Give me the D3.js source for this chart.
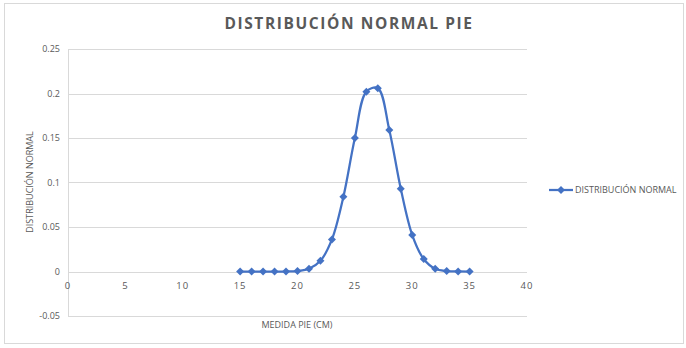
<!DOCTYPE html>
<html><head><meta charset="utf-8">
<script src="https://cdn.jsdelivr.net/npm/d3@7"></script>
<style>body{margin:0;background:#fff;}svg{display:block;font-family:"Open Sans",Lato,sans-serif;}</style>
</head><body>
<svg id="c" width="686" height="348"></svg>
<script>
const xValues = [15,16,17,18,19,20,21,22,23,24,25,26,27,28,29,30,31,32,33,34,35];
const yValues = [0,0,0,0,0,0.0005,0.003,0.012,0.036,0.084,0.150,0.202,0.206,0.159,0.093,0.041,0.014,0.003,0.0005,0.0001,0];
const xTicks = [0,5,10,15,20,25,30,35,40];
const yTicks = [-0.05,0,0.05,0.1,0.15,0.2,0.25];
const title = "DISTRIBUCIÓN NORMAL PIE";
const seriesName = "DISTRIBUCIÓN NORMAL";
const xTitle = "MEDIDA PIE (CM)";
const yTitle = "DISTRIBUCIÓN NORMAL";

const svg = d3.select("#c");
const blue = "#4472C4", grid = "#d9d9d9", txt = "#595959";

svg.append("rect").attr("x",4.5).attr("y",3.5).attr("width",679).attr("height",340)
  .attr("fill","#fff").attr("stroke","#d9d9d9");

const x = d3.scaleLinear().domain([0,40]).range([68,527]);
const y = d3.scaleLinear().domain([-0.05,0.25]).range([316,49]);

// gridlines
svg.append("g").selectAll("line").data(yTicks).join("line")
  .attr("x1",x(0)).attr("x2",x(40))
  .attr("y1",d=>Math.round(y(d))+0.5).attr("y2",d=>Math.round(y(d))+0.5)
  .attr("stroke",grid).attr("stroke-width",1);
// vertical axis line
svg.append("line").attr("x1",68.5).attr("x2",68.5).attr("y1",y(0.25)).attr("y2",y(-0.05))
  .attr("stroke",grid);

// y tick labels
svg.append("g").selectAll("text").data(yTicks).join("text")
  .attr("x",60).attr("y",d=>y(d)+3).attr("text-anchor","end")
  .attr("font-size",9).attr("fill",txt).text(d=>d);
// x tick labels
svg.append("g").selectAll("text").data(xTicks).join("text")
  .attr("x",d=>x(d)).attr("y",y(0)+17).attr("text-anchor","middle")
  .attr("font-size",9.5).attr("letter-spacing","1px").attr("fill",txt).text(d=>d);

// title
svg.append("text").attr("x",349).attr("y",29).attr("text-anchor","middle")
  .attr("font-size",15.5).attr("font-weight","bold").attr("letter-spacing","1.6px")
  .attr("fill",txt).text(title);

// axis titles
svg.append("text").attr("x",297).attr("y",328).attr("text-anchor","middle")
  .attr("font-size",9).attr("fill",txt).text(xTitle);
svg.append("text").attr("transform","translate(33,182) rotate(-90)").attr("text-anchor","middle")
  .attr("font-size",9).attr("fill",txt).text(yTitle);

// series
const data = xValues.map((v,i)=>({x:v,y:yValues[i]}));
const line = d3.line().x(d=>x(d.x)).y(d=>y(d.y)).curve(d3.curveCatmullRom.alpha(0.5));
svg.append("path").datum(data).attr("d",line).attr("fill","none")
  .attr("stroke",blue).attr("stroke-width",2.25);
const r = 4;
const diamond = `M0,${-r}L${r},0L0,${r}L${-r},0Z`;
svg.append("g").selectAll("path").data(data).join("path")
  .attr("transform",d=>`translate(${x(d.x)},${y(d.y)})`).attr("d",diamond).attr("fill",blue);

// legend
const ly = 190;
svg.append("line").attr("x1",549).attr("x2",573).attr("y1",ly).attr("y2",ly)
  .attr("stroke",blue).attr("stroke-width",2.25);
svg.append("path").attr("transform",`translate(561,${ly})`).attr("d",diamond).attr("fill",blue);
svg.append("text").attr("x",575).attr("y",ly+3).attr("font-size",9).attr("fill",txt).text(seriesName);
</script>
</body></html>
